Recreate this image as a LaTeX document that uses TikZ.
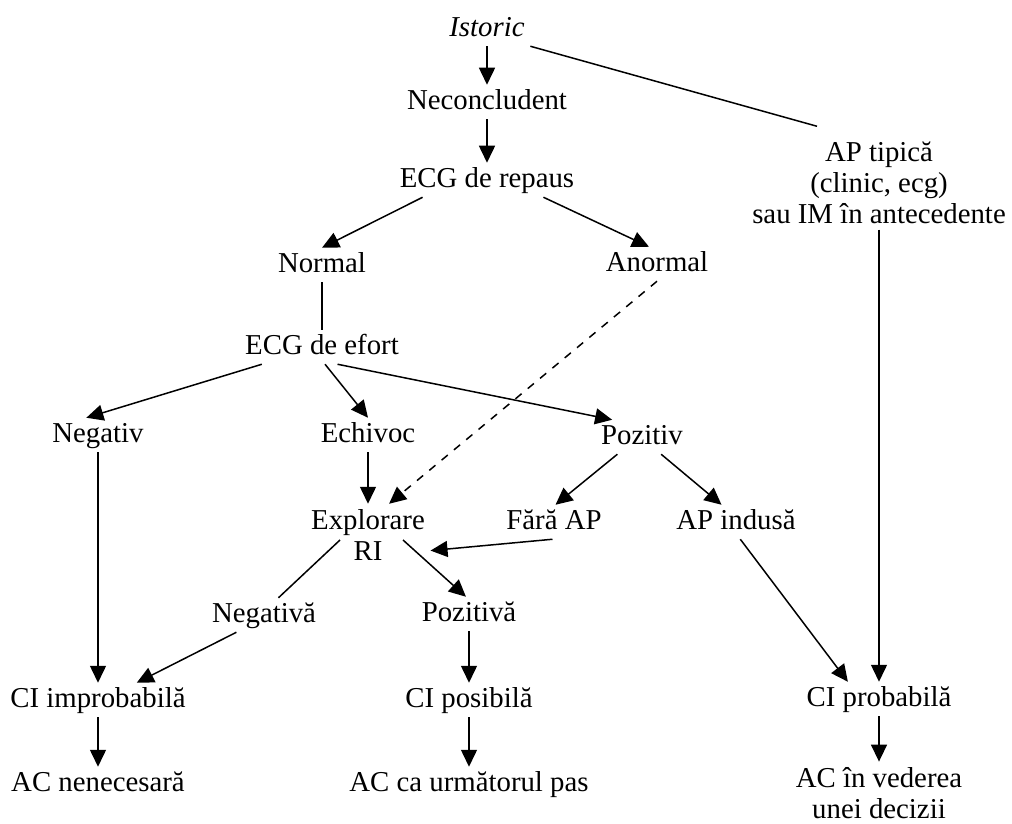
\documentclass[tikz,border=0pt]{standalone}
\usepackage{fontspec}
\setmainfont{Liberation Serif}
\usetikzlibrary{arrows.meta,calc}

\begin{document}
\begin{tikzpicture}[x=0.5pt,y=-0.5pt,line width=0.75pt,
  every node/.style={font=\fontsize{14.4}{15.5}\selectfont},
  lbl/.style={text height=9.5pt,text depth=2pt,inner sep=2.5pt},
  blk/.style={align=center,inner sep=2.5pt},
  arr/.style={-{Triangle[length=8.5pt,width=8pt]}}]
  \useasboundingbox (0,0) rectangle (1012,824);
% Anamneza
  \node[lbl] (istoric) at (487,29) {\textit{Istoric}};
  \node[lbl] (neconcl) at (487,102) {Neconcludent};
  \node[lbl] (repaus) at (487,180) {ECG de repaus};
  \node[blk] (aptipica) at (879,183) {AP tipică\\(clinic, ecg)\\sau IM în antecedente};
  \node[lbl] (normal) at (322,265) {Normal};
  \node[lbl] (anormal) at (657,264) {Anormal};
% Proba de efort
  \node[lbl] (efort) at (322,347) {ECG de efort};
  \node[lbl] (negativ) at (98,435) {Negativ};
  \node[lbl] (echivoc) at (368,435) {Echivoc};
  \node[lbl] (pozitiv) at (642,437) {Pozitiv};
  \node[blk] (explorare) at (368,535) {Explorare\\RI};
  \node[lbl] (fara) at (554,522) {Fără AP};
  \node[lbl] (indusa) at (736,522) {AP indusă};
  \node[lbl] (negativa) at (264,615) {Negativă};
  \node[lbl] (pozitiva) at (469,614) {Pozitivă};
% Concluzii
  \node[lbl] (improb) at (98,700) {CI improbabilă};
  \node[lbl] (posib) at (469,700) {CI posibilă};
  \node[lbl] (prob) at (879,699) {CI probabilă};
  \node[lbl] (nenec) at (98,784) {AC nenecesară};
  \node[lbl] (urmator) at (469,784) {AC ca următorul pas};
  \node[blk] (vedere) at (879,793) {AC în vederea\\unei decizii};
%
% Sageti
  \draw[arr] (istoric) -- (neconcl);
  \draw[arr] (neconcl) -- (repaus);
  \draw (istoric.south east) -- ($(aptipica.north)+(-62,-10)$);
  \draw[arr] (repaus.195) -- (normal.north);
  \draw[arr] (repaus.343) -- (anormal.115);
  \draw (normal) -- (efort);
  \draw[arr,dash pattern=on 4pt off 4pt] (anormal.south) -- (explorare.56);
  \draw[arr] (efort.196) -- (negativ.124);
  \draw[arr] (efort.-80) -- (echivoc.north);
  \draw[arr] (efort.-48) -- (pozitiv.150);
  \draw[arr] (echivoc) -- (explorare);
  \draw[arr] (pozitiv.215) -- (fara.85);
  \draw[arr] (pozitiv.-42) -- (indusa.130);
  \draw[arr] (fara.-95) -- (explorare.-14);
  \draw ($(explorare.center)+(-28,5)$) -- (negativa.50);
  \draw[arr] ($(explorare.center)+(35,5)$) -- (pozitiva.100);
  \draw[arr] (negativ) -- (improb);
  \draw[arr] (negativa.212) -- (improb.24);
  \draw[arr] (pozitiva) -- (posib);
  \draw[arr] (indusa.-76) -- (prob.151);
  \draw[arr] (aptipica) -- (prob);
  \draw[arr] (improb) -- (nenec);
  \draw[arr] (posib) -- (urmator);
  \draw[arr] (prob) -- (vedere);
\end{tikzpicture}
\end{document}
